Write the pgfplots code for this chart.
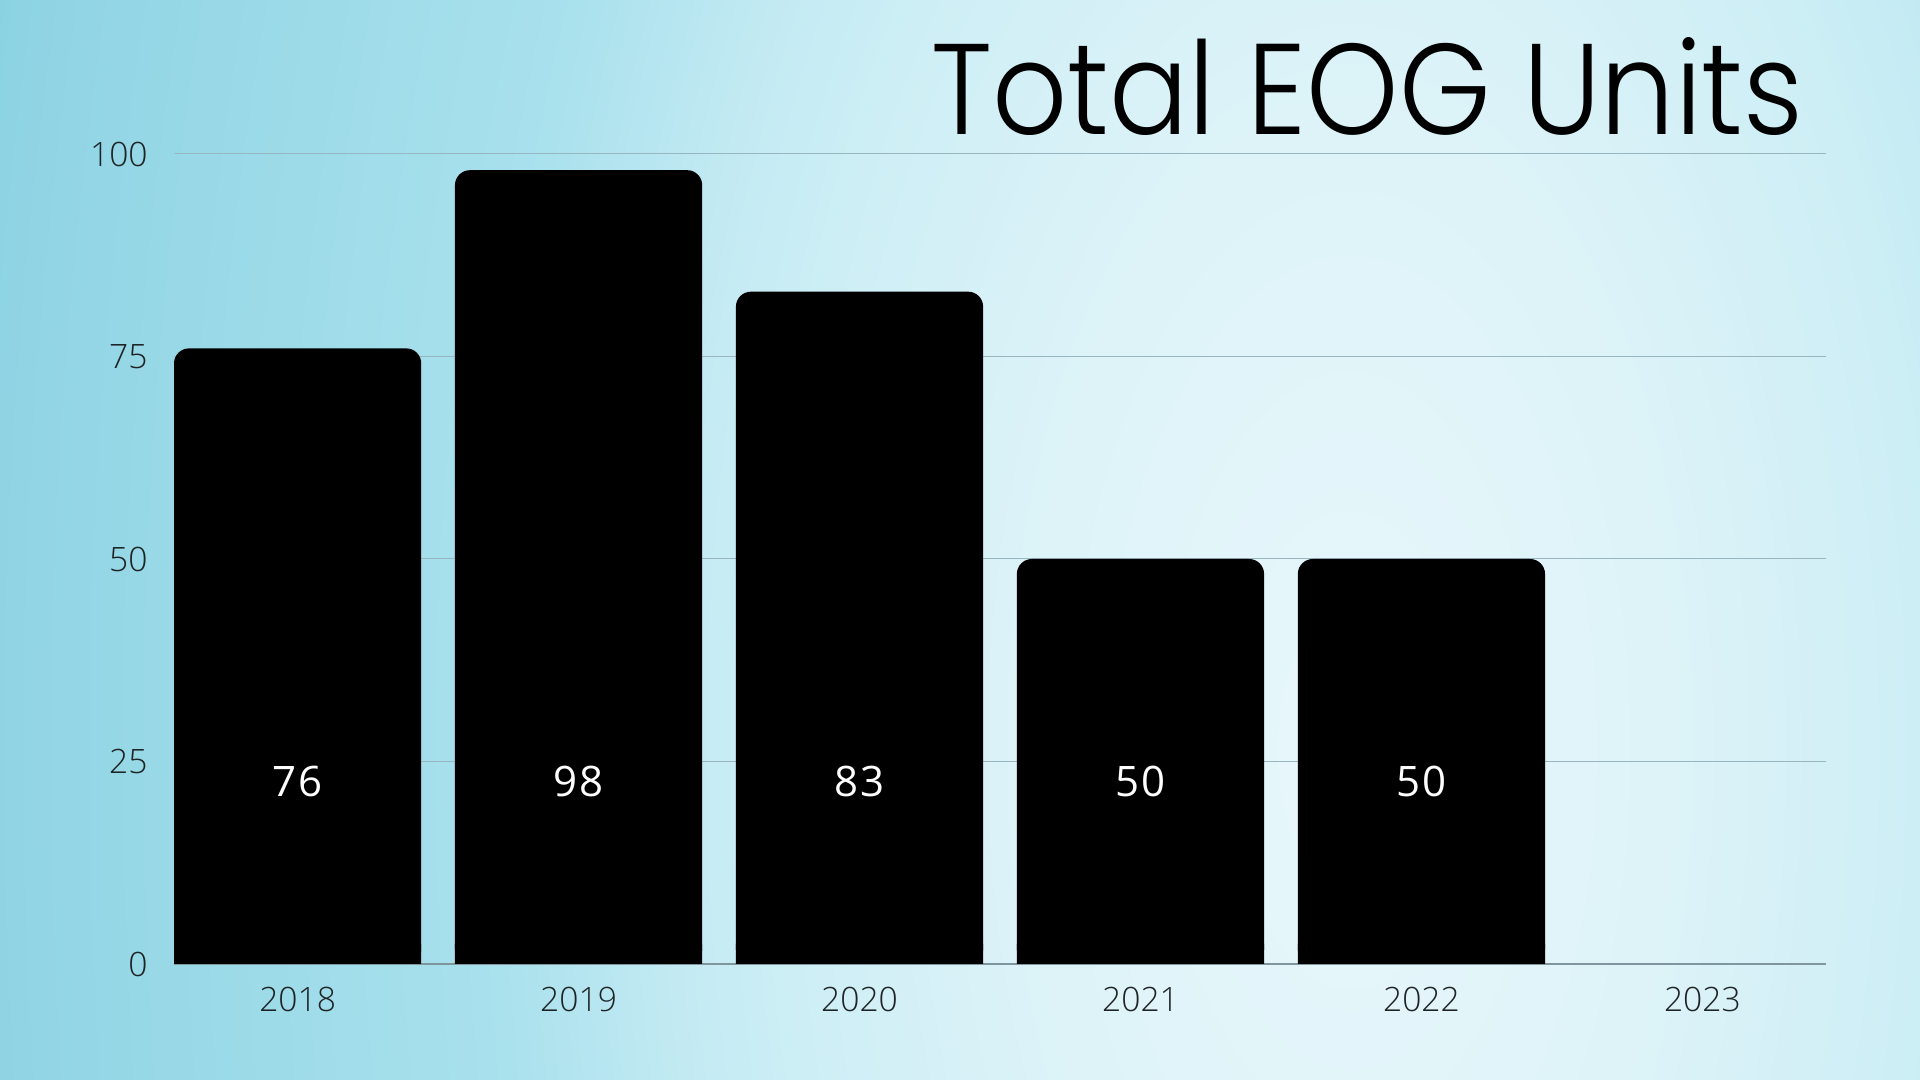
\documentclass[border=0pt]{standalone}
\usepackage{pgfplots}
\pgfplotsset{compat=1.18}
\usepackage{fontspec}
\setmainfont{Open Sans}
\newfontfamily\oslight{Open Sans Light}
\newfontfamily\valfont{Open Sans}[LetterSpace=6]
\newfontfamily\titlefont{Poppins Light}
\definecolor{bg0}{HTML}{E8F7FB}
\definecolor{bg1}{HTML}{DDF3F8}
\definecolor{bg2}{HTML}{CCEEF5}
\definecolor{bg3}{HTML}{C3EAF3}
\definecolor{bg4}{HTML}{A9E1ED}
\definecolor{bg5}{HTML}{90D4E4}
\definecolor{bg6}{HTML}{89D2E2}
\definecolor{bg7}{HTML}{86D0E0}
\definecolor{gridcol}{HTML}{98B6C0}
\definecolor{axiscol}{HTML}{7F969E}
\definecolor{tickcol}{HTML}{1E2426}
\pgfdeclareradialshading{bgshade}{\pgfpoint{0bp}{0bp}}{color(0bp)=(bg0); color(2.5bp)=(bg1); color(4.55bp)=(bg2); color(5.325bp)=(bg3); color(6.7bp)=(bg4); color(10.6bp)=(bg5); color(11bp)=(bg6); color(12.5bp)=(bg7); color(50bp)=(bg7)}
\pgfplotstableread{
x y
0 76
1 98
2 83
3 50
4 50
}\eogdata
\begin{document}
\begin{tikzpicture}
\useasboundingbox (0,0) rectangle (960pt,540pt);
\begin{scope}
\clip (0,0) rectangle (960pt,540pt);
\shade[shading=bgshade] (-925pt,-3035pt) rectangle (2275pt,3365pt);
\end{scope}
\begin{axis}[
  at={(87pt,58pt)}, anchor=south west,
  scale only axis, width=826pt, height=405pt,
  xmin=-0.44, xmax=5.44, ymin=0, ymax=100,
  ytick={0,25,50,75,100},
  xtick={0,1,2,3,4,5},
  xticklabels={2018,2019,2020,2021,2022,2023},
  axis x line*=bottom, axis y line*=left,
  y axis line style={draw=none},
  x axis line style={draw=axiscol, line width=0.6pt},
  ymajorgrids, grid style={draw=gridcol, line width=0.5pt},
  major tick length=0pt, tick style={draw=none},
  /pgf/number format/assume math mode=true,
  tick label style={font=\oslight\fontsize{16.8}{20}\selectfont, text=tickcol},
  yticklabel style={inner sep=0pt, anchor=east, xshift=-13pt},
  xticklabel style={inner sep=0pt, anchor=north, yshift=-11.5pt},
  clip=false,
]
\addplot[ybar, bar width=0.88, bar shift=0pt, fill=black, draw=none, rounded corners=7.5pt] table[x=x, y=y] {\eogdata};
\addplot[ybar, bar width=0.88, bar shift=0pt, fill=black, draw=none, y filter/.expression={min(y,2.5)}] table[x=x, y=y] {\eogdata};
\addplot[only marks, mark=none, point meta=explicit symbolic, nodes near coords,
  nodes near coords style={anchor=center, inner sep=0pt, text=white, font=\valfont\fontsize{21}{26}\selectfont}]
  coordinates {(0,22.5)[76] (1,22.5)[98] (2,22.5)[83] (3,22.5)[50] (4,22.5)[50]};
\end{axis}
\node[anchor=base east, inner sep=0pt] at (902pt,472.85pt) {\resizebox{436pt}{48.5pt}{\titlefont Total EOG Units}};
\end{tikzpicture}
\end{document}
